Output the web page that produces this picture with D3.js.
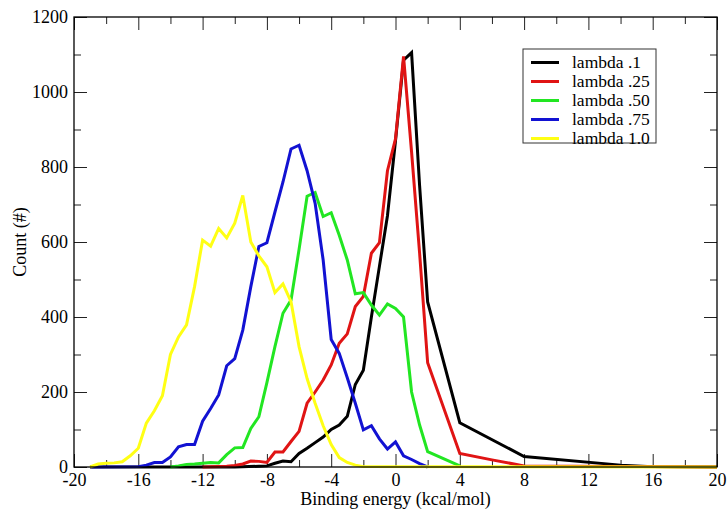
<!DOCTYPE html>
<html>
<head>
<meta charset="utf-8">
<script src="https://cdn.jsdelivr.net/npm/d3@7"></script>
<style>
  body { margin: 0; background: #fff; }
  text { font-family: "Liberation Serif", "DejaVu Serif", serif; fill: #000; }
</style>
</head>
<body>
<div id="chart"></div>
<script>

// histogram data (binding energy vs count)
var blackX = [-19, -10, -8.5, -8, -7.5, -7, -6.5, -6, -5.5, -5, -4.5, -4, -3.5, -3, -2.5, -2, -1.5, -1, -0.5, 0, 0.5, 1, 1.5, 2, 4, 8, 14, 16, 20];
var blackY = [0, 0, 2, 3, 10, 16, 14, 36, 50, 65, 80, 100, 112, 135, 220, 258, 400, 535, 670, 870, 1085, 1105, 750, 440, 118, 28, 5, 1, 0];

var redX = [-12, -10.5, -10, -9.5, -9, -8.5, -8, -7.5, -7, -6.5, -6, -5.5, -5, -4.5, -4, -3.5, -3, -2.5, -2, -1.5, -1, -0.5, 0, 0.5, 1, 1.5, 2, 4, 6, 8, 20];
var redY = [0, 2, 4, 8, 16, 15, 12, 40, 40, 68, 95, 170, 200, 232, 272, 330, 355, 428, 455, 570, 598, 790, 875, 1095, 840, 570, 278, 36, 19, 3, 0];

var greenX = [-14, -13.5, -13, -12.5, -12, -11.5, -11, -10.5, -10, -9.5, -9, -8.5, -8, -7.5, -7, -6.5, -6, -5.5, -5, -4.5, -4, -3.5, -3, -2.5, -2, -1.5, -1, -0.5, 0, 0.5, 1, 1.5, 2, 4];
var greenY = [0, 3, 7, 8, 10, 12, 11, 33, 51, 52, 103, 134, 225, 321, 410, 445, 580, 722, 732, 668, 678, 618, 552, 462, 465, 432, 405, 435, 423, 400, 200, 112, 41, 3];

var blueX = [-19, -16, -15.5, -15, -14.5, -14, -13.5, -13, -12.5, -12, -11.5, -11, -10.5, -10, -9.5, -9, -8.5, -8, -7.5, -7, -6.5, -6, -5.5, -5, -4.5, -4, -3.5, -3, -2.5, -2, -1.5, -1, -0.5, 0, 0.5, 1, 1.5, 2];
var blueY = [0, 1, 5, 12, 12, 27, 54, 60, 60, 122, 156, 192, 270, 289, 365, 481, 588, 598, 680, 760, 848, 858, 790, 703, 552, 340, 303, 238, 170, 99, 110, 75, 48, 67, 30, 20, 9, 0];

var yellowX = [-19, -18.5, -18, -17.5, -17, -16.5, -16, -15.5, -15, -14.5, -14, -13.5, -13, -12.5, -12, -11.5, -11, -10.5, -10, -9.5, -9, -8.5, -8, -7.5, -7, -6.5, -6, -5.5, -5, -4.5, -4, -3.5, -3, -2.5, -2, 20];
var yellowY = [0, 8, 10, 11, 14, 30, 50, 117, 150, 190, 300, 347, 379, 481, 605, 589, 636, 611, 650, 724, 600, 563, 534, 465, 488, 441, 321, 236, 170, 110, 60, 25, 12, 5, 1, 0];

var seriesNames = ["lambda .1", "lambda .25", "lambda .50", "lambda .75", "lambda 1.0"];
var seriesColors = ["#000000", "#e01414", "#22e622", "#1212d2", "#ffff14"];
var seriesX = [blackX, redX, greenX, blueX, yellowX];
var seriesY = [blackY, redY, greenY, blueY, yellowY];

var xMajor = [-20, -16, -12, -8, -4, 0, 4, 8, 12, 16, 20];
var yMajor = [0, 200, 400, 600, 800, 1000, 1200];

var serif = '"Liberation Serif", "DejaVu Serif", serif';

// set margins and dimensions of graph
var margin = {top: 17, right: 11, bottom: 44, left: 74},
    width = 728 - margin.left - margin.right,
    height = 511 - margin.top - margin.bottom;

var svg = d3.select("#chart")
  .append("svg")
  .attr("width", width + margin.left + margin.right)
  .attr("height", height + margin.top + margin.bottom)
.append("g")
  .attr("transform", "translate(" + margin.left + "," + margin.top + ")");

var x = d3.scaleLinear().domain([-20, 20]).range([0, width]);
var y = d3.scaleLinear().domain([0, 1200]).range([height, 0]);

// minor tick positions between the majors
var xMinor = d3.range(-18, 20, 4);
var yMinor = d3.range(100, 1200, 200);

// plain hyphen for negatives, like the original
function plain(d) { return String(d); }

function styleAxis(g) {
  g.attr("font-family", serif);
  g.select(".domain").remove();
  g.selectAll(".tick line").attr("stroke", "#222").attr("stroke-width", 1);
  g.selectAll(".tick text")
    .style("font-family", serif)
    .style("font-size", "18px")
    .attr("fill", "#000");
}

// bottom axis with labels, ticks pointing inward
svg.append("g")
  .attr("transform", "translate(0," + height + ")")
  .call(d3.axisBottom(x).tickValues(xMajor).tickSize(-13).tickPadding(6).tickFormat(plain))
  .call(styleAxis);
svg.append("g")
  .attr("transform", "translate(0," + height + ")")
  .call(d3.axisBottom(x).tickValues(xMinor).tickSize(-7).tickFormat(""))
  .call(styleAxis);

// top axis, ticks only
svg.append("g")
  .call(d3.axisTop(x).tickValues(xMajor).tickSize(-13).tickFormat(""))
  .call(styleAxis);
svg.append("g")
  .call(d3.axisTop(x).tickValues(xMinor).tickSize(-7).tickFormat(""))
  .call(styleAxis);

// left axis with labels
svg.append("g")
  .call(d3.axisLeft(y).tickValues(yMajor).tickSize(-13).tickPadding(6).tickFormat(plain))
  .call(styleAxis);
svg.append("g")
  .call(d3.axisLeft(y).tickValues(yMinor).tickSize(-7).tickFormat(""))
  .call(styleAxis);

// right axis, ticks only
svg.append("g")
  .attr("transform", "translate(" + width + ",0)")
  .call(d3.axisRight(y).tickValues(yMajor).tickSize(-13).tickFormat(""))
  .call(styleAxis);
svg.append("g")
  .attr("transform", "translate(" + width + ",0)")
  .call(d3.axisRight(y).tickValues(yMinor).tickSize(-7).tickFormat(""))
  .call(styleAxis);

// the curves, black first and yellow last like the original
var line = d3.line()
  .x(function(d) { return x(d[0]); })
  .y(function(d) { return y(d[1]); });

seriesNames.forEach(function(name, i) {
  var pts = seriesX[i].map(function(v, j) { return [v, seriesY[i][j]]; });
  svg.append("path")
    .datum(pts)
    .attr("fill", "none")
    .attr("stroke", seriesColors[i])
    .attr("stroke-width", 3)
    .attr("stroke-linejoin", "miter")
    .attr("d", line);
});

// frame
svg.append("rect")
  .attr("width", width)
  .attr("height", height)
  .attr("fill", "none")
  .attr("stroke", "#000")
  .attr("stroke-width", 1.3);

// axis titles
svg.append("text")
  .attr("x", width / 2)
  .attr("y", height + 38)
  .attr("text-anchor", "middle")
  .style("font-size", "18px")
  .text("Binding energy (kcal/mol)");

svg.append("text")
  .attr("transform", "translate(" + (-48) + "," + (y(600)) + ")rotate(-90)")
  .attr("text-anchor", "middle")
  .style("font-size", "18px")
  .text("Count (#)");

// legend box
var legend = svg.append("g").attr("transform", "translate(449,32)");
legend.append("rect")
  .attr("width", 133)
  .attr("height", 94)
  .attr("fill", "#fff")
  .attr("stroke", "#333")
  .attr("stroke-width", 1);

legend.selectAll("lines")
  .data(seriesNames)
  .enter()
  .append("line")
    .attr("x1", 8)
    .attr("x2", 36)
    .attr("y1", function(d, i) { return 13.5 + i * 19; })
    .attr("y2", function(d, i) { return 13.5 + i * 19; })
    .attr("stroke", function(d, i) { return seriesColors[i]; })
    .attr("stroke-width", 3);

legend.selectAll("labels")
  .data(seriesNames)
  .enter()
  .append("text")
    .attr("x", 49)
    .attr("y", function(d, i) { return 13.5 + i * 19; })
    .attr("dy", "0.32em")
    .style("font-size", "17.5px")
    .text(function(d) { return d; });

</script>
</body>
</html>
